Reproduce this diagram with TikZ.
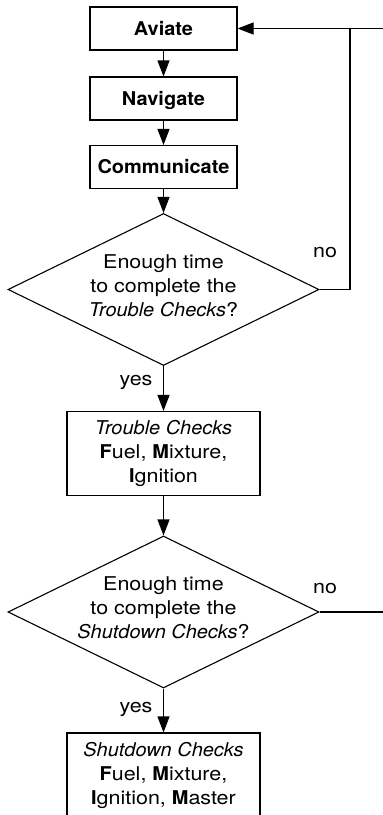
\documentclass[tikz,border=0pt]{standalone}
\usepackage{fontspec}
\setmainfont{TeX Gyre Heros}[FakeStretch=1.13, BoldFeatures={FakeStretch=1.05}, ItalicFeatures={FakeStretch=1.05}]
\usetikzlibrary{arrows.meta,shapes.geometric}

\begin{document}
\begin{tikzpicture}[x=1pt, y=-1pt, line width=1.1pt, >={Triangle[length=16pt,width=12pt]},
	every node/.style={font=\fontsize{19}{24}\selectfont},
	taskbox/.style={draw, minimum width=147pt, minimum height=43pt, inner sep=0pt, font=\fontsize{19}{24}\selectfont\bfseries, text height=13.6pt, text depth=0pt},
	checkbox/.style={draw, minimum width=193pt, minimum height=84pt, inner sep=0pt, align=center},
	query/.style={draw, diamond, aspect=2, inner sep=0pt, minimum width=311pt, minimum height=152pt},
	querytext/.style={align=center, inner sep=0pt},
	tag/.style={anchor=base}]
	\useasboundingbox (0,0) rectangle (383,815);
	\clip (0,0) rectangle (383,815);
	% task boxes
	\node[taskbox] (aviate) at (163.5,28.5) {Aviate};
	\node[taskbox] (navigate) at (163.5,98.5) {Navigate};
	\node[taskbox] (communicate) at (163.5,167) {Communicate};
	% first decision
	\node[query] (q1) at (163.5,289.5) {};
	\node[querytext] (q1text) at ([yshift=4pt]q1.center) {Enough time\\to complete the\\\textit{Trouble Checks}?};
	\node[checkbox] (trouble) at (163.5,453.5) {\textit{Trouble Checks}\\\textbf{F}uel, \textbf{M}ixture,\\\textbf{I}gnition};
	% second decision
	\node[query] (q2) at (163.5,612) {};
	\node[querytext] (q2text) at ([yshift=4pt]q2.center) {Enough time\\to complete the\\\textit{Shutdown Checks}?};
	\node[checkbox] (shutdown) at (163.5,775) {\textit{Shutdown Checks}\\\textbf{F}uel, \textbf{M}ixture,\\\textbf{I}gnition, \textbf{M}aster};
	\coordinate (loop) at (350,0);
	\coordinate (rim) at (395,0);
	% connectors
	\draw[->] (aviate) -- (navigate);
	\draw[->] (navigate) -- (communicate);
	\draw[->] (communicate) -- (q1.north);
	\draw[->] (q1.south) -- (trouble);
	\draw[->] (trouble) -- (q2.north);
	\draw[->] (q2.south) -- (shutdown);
	\draw[->] (q1.east) -| (aviate.east -| loop) -- (aviate.east);
	\draw (aviate.east -| rim) -- (aviate.east -| loop);
	\draw (q2.east) -- (q2.east -| rim);
	% answers
	\node[tag] (no1) at (325,257) {no};
	\node[tag] (no2) at (325,593) {no};
	\node[tag] (yes1) at (136,385) {yes};
	\node[tag] (yes2) at (136,712) {yes};
\end{tikzpicture}
\end{document}
